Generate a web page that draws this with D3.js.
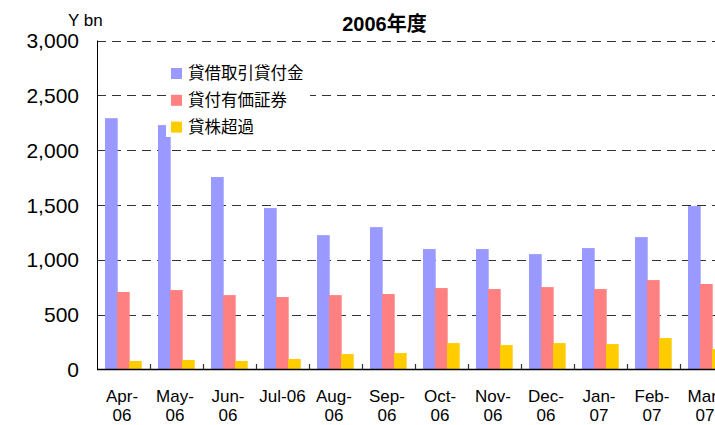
<!DOCTYPE html>
<html><head><meta charset="utf-8">
<script src="https://cdn.jsdelivr.net/npm/d3@7"></script>
<style>
html,body{margin:0;padding:0;background:#fff;}
svg{display:block;}
text{font-family:"Liberation Sans",Arial,"Noto Sans CJK JP",sans-serif;fill:#000;}
</style></head>
<body>
<svg id="chart" width="715" height="425"></svg>
<script>
const months = ["Apr-06","May-06","Jun-06","Jul-06","Aug-06","Sep-06","Oct-06","Nov-06","Dec-06","Jan-07","Feb-07","Mar-07"];
const seriesNames = ["貸借取引貸付金","貸付有価証券","貸株超過"];
const lending = [2292,2229,1755,1472,1225,1298,1098,1098,1052,1107,1207,1490];
const securities = [706,724,678,660,678,688,742,733,751,733,815,779];
const excess = [77,86,77,95,140,149,240,222,240,231,286,186];
const colors = ["#9999FF","#FF8080","#FFCC00"];
const yTicks = [0,500,1000,1500,2000,2500,3000];
const title = "2006年度";
const unit = "Y bn";

const svg = d3.select("#chart");
const x = d3.scaleBand().domain(months).range([97, 733]).paddingInner(0).paddingOuter(0);
const x1 = d3.scaleBand().domain(seriesNames).range([8, 44]);
const y = d3.scaleLinear().domain([0, 3000]).range([369.4, 40.6]);

// gridlines
svg.append("g").selectAll("line").data(yTicks.filter(d => d > 0)).join("line")
  .attr("x1", 97).attr("x2", 733)
  .attr("y1", d => Math.round(y(d)) + 0.5).attr("y2", d => Math.round(y(d)) + 0.5)
  .attr("stroke", "#333").attr("stroke-width", 1).attr("stroke-dasharray", "9,6");

// bars
const data = [lending, securities, excess];
data.forEach((vals, si) => {
  svg.append("g").selectAll("rect").data(months).join("rect")
    .attr("x", m => x(m) + x1(seriesNames[si]))
    .attr("width", x1.bandwidth() + 0.7)
    .attr("y", (m, i) => y(vals[i]))
    .attr("height", (m, i) => y(0) - y(vals[i]))
    .attr("fill", colors[si]);
});

// axes
svg.append("line").attr("x1", 97.5).attr("x2", 97.5).attr("y1", 40.5).attr("y2", 369.5)
  .attr("stroke", "#000").attr("stroke-width", 1);
svg.append("line").attr("x1", 97).attr("x2", 733).attr("y1", 369.5).attr("y2", 369.5)
  .attr("stroke", "#000").attr("stroke-width", 1.5);
svg.append("g").selectAll("line").data(months.slice(1)).join("line")
  .attr("x1", m => Math.round(x(m)) + 0.5).attr("x2", m => Math.round(x(m)) + 0.5)
  .attr("y1", 364).attr("y2", 369).attr("stroke", "#333").attr("stroke-width", 1.2);

// y tick labels
svg.append("g").selectAll("text").data(yTicks).join("text")
  .attr("x", 79).attr("y", d => y(d)).attr("dy", "0.36em")
  .attr("text-anchor", "end").style("font-size", "21px")
  .text(d => d3.format(",")(d));

// x labels
const xl = svg.append("g");
months.forEach(m => {
  const cx = x(m) + x.bandwidth() / 2;
  if (m === "Jul-06") {
    xl.append("text").attr("x", cx).attr("y", 402).attr("text-anchor", "middle")
      .style("font-size", "17px").text(m);
  } else {
    const parts = m.split("-");
    xl.append("text").attr("x", cx - 1.5).attr("y", 402).attr("text-anchor", "middle")
      .style("font-size", "17px").text(parts[0] + "-");
    xl.append("text").attr("x", cx - 1.5).attr("y", 421).attr("text-anchor", "middle")
      .style("font-size", "17px").text(parts[1]);
  }
});

// legend
const lg = svg.append("g");
lg.append("rect").attr("x", 166).attr("y", 55).attr("width", 144).attr("height", 82).attr("fill", "#fff");
seriesNames.forEach((s, i) => {
  const cy = 73.5 + i * 26.8;
  lg.append("rect").attr("x", 171).attr("y", cy - 5.5).attr("width", 11).attr("height", 11).attr("fill", colors[i]);
  lg.append("text").attr("x", 188).attr("y", cy).attr("dy", "0.36em")
    .style("font-family", "'Noto Sans CJK JP',sans-serif").style("font-size", "16.5px")
    .text(s);
});

// title and unit
svg.append("text").attr("x", 384.5).attr("y", 31).attr("text-anchor", "middle")
  .style("font-size", "20px").style("font-weight", "bold").text(title);
svg.append("text").attr("x", 68).attr("y", 26)
  .style("font-size", "17px").text(unit);
</script>
</body></html>
